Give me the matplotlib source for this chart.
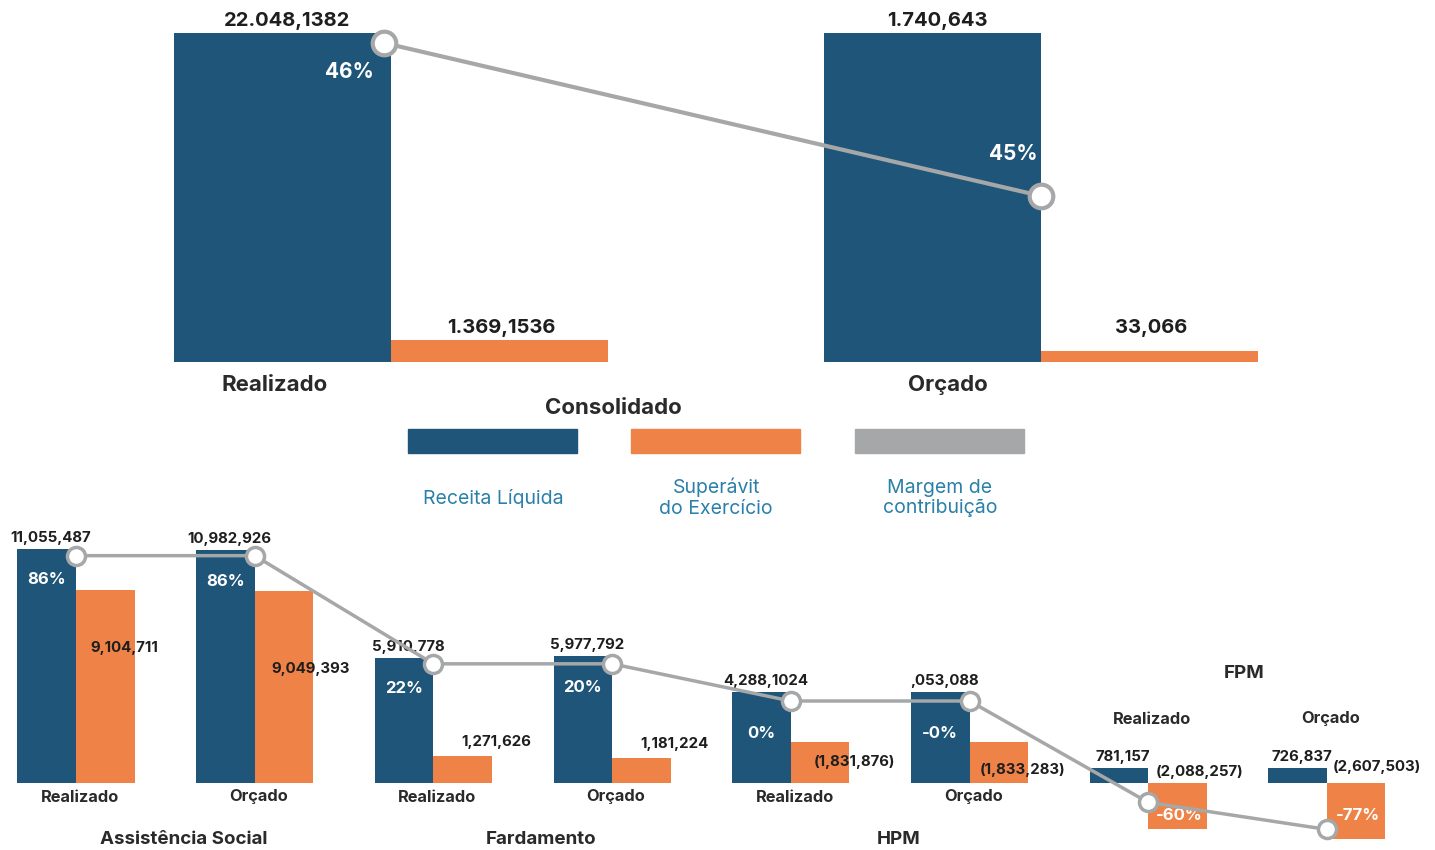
import matplotlib
matplotlib.use("Agg")
import matplotlib.pyplot as plt
from matplotlib.patches import Rectangle

W, H = 1435, 850
plt.rcParams['font.family'] = ['Inter', 'DejaVu Sans']

AZUL = '#1f5579'
LARANJA = '#ef8247'
CINZA = '#a5a7a8'
TEXTO = '#1e1e1e'
LEGENDA = '#2a80a8'

# ---------------- data ----------------
topo_categorias = ['Realizado', 'Orçado']
topo_receita_alt = [100, 100]          # displayed bar heights (% of scale)
topo_superavit_alt = [6.7, 3.3]
topo_margem = [46, 45]
topo_receita_rot = ['22.048,1382', '1.740,643']
topo_superavit_rot = ['1.369,1536', '33,066']
topo_margem_rot = ['46%', '45%']

grupos = ['Assistência Social', 'Fardamento', 'HPM', 'FPM']
cenarios = ['Realizado', 'Orçado', 'Realizado', 'Orçado',
            'Realizado', 'Orçado', 'Realizado', 'Orçado']
receita = [11.055, 10.983, 5.911, 5.978, 4.29, 4.29, 0.72, 0.72]          # millions
superavit = [9.105, 9.049, 1.272, 1.181, 1.95, 1.95, -2.17, -2.65]        # millions (as drawn)
margem = [86, 86, 22, 22, 0, 0, -60, -76]
receita_rot = ['11,055,487', '10,982,926', '5,910,778', '5,977,792',
               '4,288,1024', ',053,088', '781,157', '726,837']
superavit_rot = ['9,104,711', '9,049,393', '1,271,626', '1,181,224',
                 '(1,831,876)', '(1,833,283)', '(2,088,257)', '(2,607,503)']
margem_rot = ['86%', '86%', '22%', '20%', '0%', '-0%', '-60%', '-77%']

legenda_rot = ['Receita Líquida', 'Superávit\ndo Exercício', 'Margem de\ncontribuição']

# ---------------- figure ----------------
fig = plt.figure(figsize=(W / 100, H / 100), dpi=100)


def fpos(x0, y0, x1, y1):
    return [x0 / W, 1 - y1 / H, (x1 - x0) / W, (y1 - y0) / H]


# ---------- top (Consolidado) ----------
ax = fig.add_axes(fpos(174, 0, 1258, 372))
ax.set_xlim(0, 5)
pxu = 329 / 100
ax.set_ylim(-(372 - 362) / pxu, 362 / pxu)
ax.axis('off')
grp = [0, 3]
for i, g in enumerate(grp):
    ax.bar(g + 0.5, topo_receita_alt[i], width=1, color=AZUL)
    ax.bar(g + 1.5, topo_superavit_alt[i], width=1, color=LARANJA)
    ax.annotate(topo_receita_rot[i], (g + 0.5, topo_receita_alt[i]), xytext=(5, 12),
                textcoords='offset pixels', ha='center', va='center',
                fontsize=14.5, fontweight='bold', color=TEXTO)
    ax.annotate(topo_superavit_rot[i], (g + 1.5, max(topo_superavit_alt)), xytext=(2, 12),
                textcoords='offset pixels', ha='center', va='center',
                fontsize=14.5, fontweight='bold', color=TEXTO)
lab_off = [-8, 15]
for i, g in enumerate(grp):
    ax.annotate(topo_categorias[i], (g + 0.5, 0), xytext=(lab_off[i], -23),
                textcoords='offset pixels', ha='center', va='center',
                fontsize=16, fontweight='bold', color='#2a2a2a')

axt = ax.twinx()
axt.set_ylim(46 - 329 / 153, 46 + 43 / 153)
axt.axis('off')
xm = [0.97, 4.0]
axt.plot(xm, topo_margem, color=CINZA, lw=3, marker='o', ms=17,
         mfc='white', mec=CINZA, mew=3, zorder=5)
pct_off = [(-35, -29), (-28, 42)]
for i in range(2):
    axt.annotate(topo_margem_rot[i], (xm[i], topo_margem[i]), xytext=pct_off[i],
                 textcoords='offset pixels', ha='center', va='center',
                 fontsize=15, fontweight='bold', color='white', zorder=6)

fig.text(613 / W, 1 - 408 / H, 'Consolidado', ha='center', va='center',
         fontsize=16, fontweight='bold', color='#2a2a2a')

# legend
cores = [AZUL, LARANJA, CINZA]
leg_x = [408, 631, 855]
for i in range(3):
    fig.patches.append(Rectangle((leg_x[i] / W, 1 - 453 / H), 169 / W, 24 / H,
                                 transform=fig.transFigure, color=cores[i]))
    fig.text((leg_x[i] + 85) / W, 1 - 498 / H,
             legenda_rot[i], ha='center', va='center', fontsize=14,
             color=LEGENDA, linespacing=1.2)

# ---------- bottom (groups) ----------
ab = fig.add_axes(fpos(0, 520, W, 850))
pitch = 178.7
x0px = 76
ab.set_xlim(-x0px / pitch, (W - x0px) / pitch)
pxm = 21.2
ab.set_ylim(-(850 - 783) / pxm, (783 - 520) / pxm)
ab.axis('off')
w = 58.6 / pitch
xs = list(range(8))
ab.bar([x - w / 2 for x in xs], receita, width=w, color=AZUL)
ab.bar([x + w / 2 for x in xs], superavit, width=w, color=LARANJA)

for i, x in enumerate(xs):
    ab.annotate(receita_rot[i], (x - w / 2, receita[i]), xytext=(4, 11),
                textcoords='offset pixels', ha='center', va='center',
                fontsize=10.8, fontweight='bold', color=TEXTO)

sup_off = [(19, -58), (27, -78), (34, 14), (33, 14), (34, -20), (24, -28), (22, 11), (21, 16)]
for i, x in enumerate(xs):
    yref = superavit[i] if superavit[i] > 0 else 0
    ab.annotate(superavit_rot[i], (x + w / 2, yref), xytext=sup_off[i],
                textcoords='offset pixels', ha='center', va='center',
                fontsize=10.8, fontweight='bold', color=TEXTO)

for i, x in enumerate(xs):
    if grupos[i // 2] == 'FPM':
        ab.annotate(cenarios[i], (x, 0), xytext=(4, 64), textcoords='offset pixels',
                    ha='center', va='center', fontsize=11.8, fontweight='bold', color='#2a2a2a')
    else:
        ab.annotate(cenarios[i], (x, 0), xytext=(4, -14), textcoords='offset pixels',
                    ha='center', va='center', fontsize=11.8, fontweight='bold', color='#2a2a2a')

for g, nome in enumerate(grupos):
    cx = 2 * g + 0.5
    if nome == 'FPM':
        ab.annotate(nome, (cx, 0), xytext=(7, 109), textcoords='offset pixels',
                    ha='center', va='center', fontsize=13.5, fontweight='bold', color='#2a2a2a')
    else:
        ab.annotate(nome, (cx, 0), xytext=(18, -57), textcoords='offset pixels',
                    ha='center', va='center', fontsize=13.5, fontweight='bold', color='#2a2a2a')

abt = ab.twinx()
pxp = 1.69
abt.set_ylim(-(850 - 701) / pxp, (701 - 520) / pxp)
abt.axis('off')
abt.plot(xs, margem, color=CINZA, lw=2.5, marker='o', ms=13,
         mfc='white', mec=CINZA, mew=2.5, zorder=5)
for i, x in enumerate(xs):
    if margem[i] >= 0:
        ab.annotate(margem_rot[i], (x - w / 2, receita[i]), xytext=(0, -31 if i < 4 else -41),
                    textcoords='offset pixels', ha='center', va='center',
                    fontsize=12, fontweight='bold', color='white', zorder=6)
    else:
        ab.annotate(margem_rot[i], (x + w / 2, 0), xytext=(2, -32),
                    textcoords='offset pixels', ha='center', va='center',
                    fontsize=12, fontweight='bold', color='white', zorder=6)

fig.savefig('out.png', dpi=100)
